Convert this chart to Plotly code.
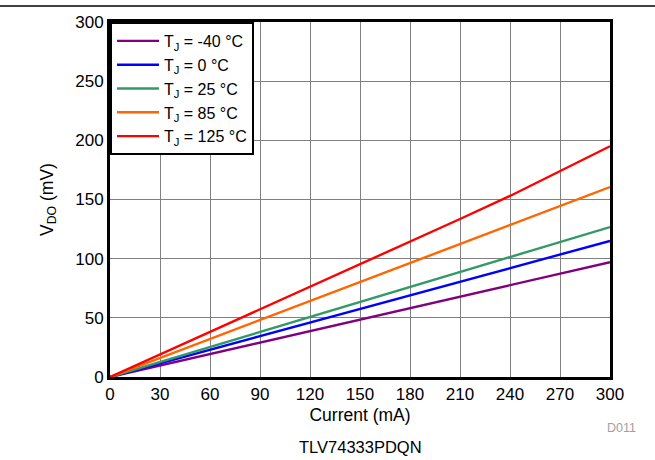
import plotly.graph_objects as go

current = [0, 30, 60, 90, 120, 150, 180, 210, 240, 270, 300]
names = ["T<sub>J</sub> = -40 °C", "T<sub>J</sub> = 0 °C", "T<sub>J</sub> = 25 °C",
         "T<sub>J</sub> = 85 °C", "T<sub>J</sub> = 125 °C"]
v_m40 = [0, 9.7, 19.4, 29.1, 38.8, 48.5, 58.2, 67.9, 77.6, 87.3, 97]
v_0 = [0, 11.5, 23, 34.5, 46, 57.5, 69, 80.5, 92, 103.5, 115]
v_25 = [0, 12.7, 25.4, 38, 50.7, 63.4, 76, 88.7, 101.4, 114, 126.7]
v_85 = [0, 16, 32, 48, 64, 80, 96, 112, 128, 144, 160.5]
v_125 = [0, 19, 38, 57, 76, 95, 114, 133.5, 153, 174, 195]
colors = ["#800080", "#0000FF", "#339966", "#FF6600", "#FF0000"]
series = [v_m40, v_0, v_25, v_85, v_125]
x_ticks = [0, 30, 60, 90, 120, 150, 180, 210, 240, 270, 300]
y_ticks = [0, 50, 100, 150, 200, 250, 300]

fig = go.Figure()
for n, v, c in zip(names, series, colors):
    fig.add_trace(go.Scatter(x=current, y=v, mode="lines", name=n,
                             line=dict(color=c, width=2.4)))

fig.update_layout(
    width=655, height=460,
    margin=dict(l=110, r=45, t=22, b=83),
    paper_bgcolor="white", plot_bgcolor="white",
    font=dict(family="Liberation Sans, Arial", size=17, color="black"),
    showlegend=True,
    legend=dict(x=0, y=1, xanchor="left", yanchor="top",
                bordercolor="black", borderwidth=2, bgcolor="white",
                font=dict(size=16), tracegroupgap=0, itemwidth=42),
    xaxis=dict(range=[0, 300], tickvals=x_ticks, showgrid=True, gridcolor="#808080",
               gridwidth=1, showline=True, linecolor="black", linewidth=3, mirror=True,
               ticks="", zeroline=False, tickfont=dict(size=17),
               title=dict(text="Current (mA)", standoff=6, font=dict(size=17.5))),
    yaxis=dict(range=[0, 300], tickvals=y_ticks, showgrid=True, gridcolor="#808080",
               gridwidth=1, showline=True, linecolor="black", linewidth=3, mirror=True,
               ticks="", zeroline=False, tickfont=dict(size=17),
               title=dict(text="V<sub>DO</sub> (mV)", standoff=18, font=dict(size=17.5))),
)

fig.add_shape(type="line", xref="paper", yref="paper",
              x0=-0.22, x1=1.09, y0=1.045, y1=1.045,
              line=dict(color="black", width=1.5))
fig.add_annotation(text="TLV74333PDQN", xref="paper", yref="paper",
                   x=0.5, y=-0.198, xanchor="center", yanchor="middle",
                   showarrow=False, font=dict(size=16.5))
fig.add_annotation(text="D011", xref="paper", yref="paper",
                   x=1.022, y=-0.145, xanchor="center", yanchor="middle",
                   showarrow=False, font=dict(size=12.5, color="#A0A0A0"))

fig.write_html("out.html", config={"displayModeBar": False},
               post_script="document.body.style.margin='0px';document.body.style.overflow='hidden';")
